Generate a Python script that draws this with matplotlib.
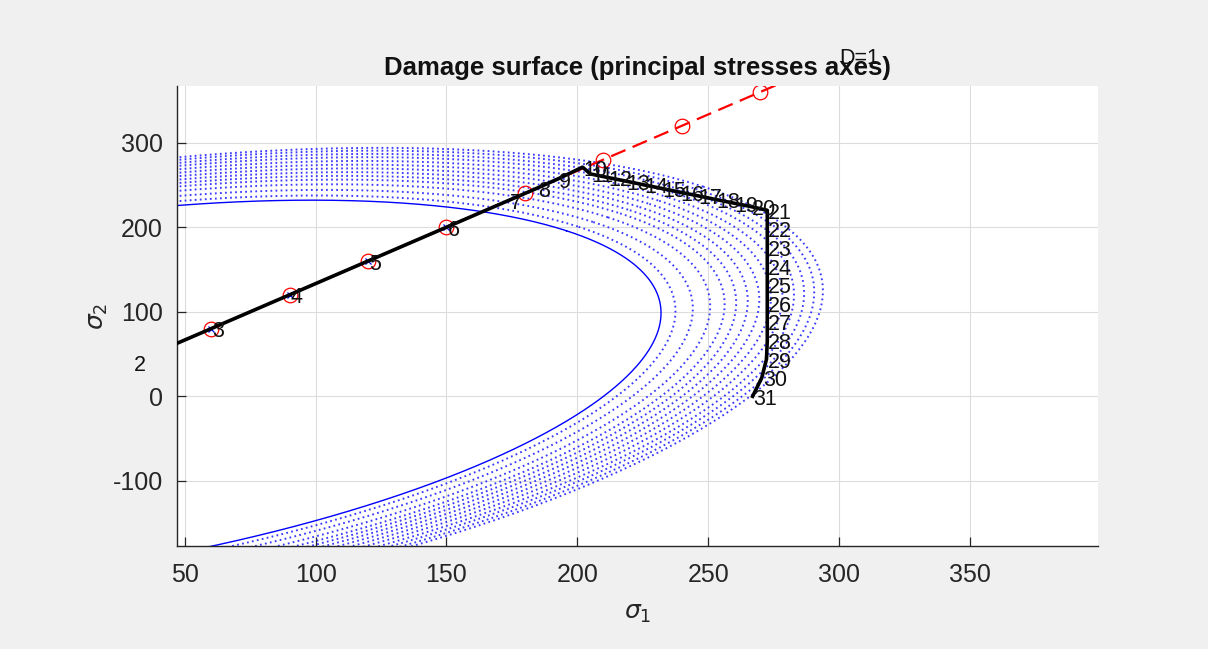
import numpy as np
import matplotlib
matplotlib.use("Agg")
import matplotlib.pyplot as plt

# ---------------- data ----------------
title_text = "Damage surface (principal stresses axes)"
# damage surfaces: s1^2 - k*s1*s2 + s2^2 = r^2
coupling_k = 0.85
r_initial = 210.0
r_levels = [215, 221, 227, 232, 236, 240, 244, 248, 252, 256, 259.5, 263, 266]

# applied (trial) proportional path
red_s1 = [0, 30, 60, 90, 120, 150, 180, 210, 240, 270, 300]
red_s2 = [0, 40, 80, 120, 160, 200, 240, 280, 320, 360, 400]

# computed stress path (points 1..31)
path_s1 = [0, 30, 60, 90, 120, 150, 174, 184.5, 192.5, 202,
           205, 211.5, 218.4, 225.3, 232.2, 239.1, 246, 252.9, 259.8, 266.5,
           272.6, 272.6, 272.6, 272.6, 272.6, 272.6, 272.6, 272.6, 272.3, 270.5, 267]
path_s2 = [0, 40, 80, 120, 160, 200, 232, 246, 257, 271,
           263, 258.9, 254.6, 250.2, 245.9, 241.5, 237.2, 232.8, 228.5, 224.3,
           220, 198, 176, 154, 132, 110, 88, 66, 44, 22, 0]
path_labels = [str(i) for i in range(1, 32)]
elastic_pts = 6  # points where trial = actual

end_text = "D=1"
end_pos = (300, 400)

xlim = (47, 399)
ylim = (-177, 367)
xticks = [50, 100, 150, 200, 250, 300, 350]
yticks = [-100, 0, 100, 200, 300]

# ---------------- style ----------------
plt.rcParams["font.family"] = ["Liberation Sans", "DejaVu Sans"]
plt.rcParams["mathtext.fontset"] = "dejavusans"
ink = "#262626"

fig = plt.figure(figsize=(12.08, 6.49), dpi=100, facecolor="#f0f0f0")
ax = fig.add_axes([177 / 1208, 1 - 546 / 649, (1098 - 177) / 1208, (546 - 86) / 649])
ax.set_facecolor("white")


def surface(r, k):
    t = np.linspace(0, 2 * np.pi, 1500)
    p = r / np.sqrt(1 - k / 2) * np.cos(t)
    q = r / np.sqrt(1 + k / 2) * np.sin(t)
    return (p + q) / np.sqrt(2), (p - q) / np.sqrt(2)


for r in r_levels:
    s1, s2 = surface(r, coupling_k)
    ax.plot(s1, s2, color=(0.15, 0.15, 1.0), lw=1.4, linestyle=(0, (0.9, 1.7)),
            alpha=0.9, zorder=2)
s1, s2 = surface(r_initial, coupling_k)
ax.plot(s1, s2, color="blue", lw=1.0, zorder=2)

ax.plot(red_s1, red_s2, color="red", lw=1.6, dashes=(7, 3.5), marker="o", ms=10.5,
        mfc="none", mec="red", mew=0.9, zorder=3)
ax.plot(path_s1[:elastic_pts], path_s2[:elastic_pts], linestyle="none", marker="x",
        ms=5, mec="blue", mew=0.9, zorder=3.5)
ax.plot(path_s1, path_s2, color="black", lw=2.6, zorder=4)

for x, y, lab in zip(path_s1[1:], path_s2[1:], path_labels[1:]):
    ax.annotate(lab, (x, y), xytext=(1, -3), textcoords="offset pixels", ha="left",
                va="center", fontsize=15.5, color="#111111", annotation_clip=False, zorder=5)
ax.text(end_pos[0], end_pos[1], end_text, ha="left", va="center", fontsize=15.5,
        color="#111111", clip_on=False, zorder=5)

ax.set_xlim(*xlim)
ax.set_ylim(*ylim)
ax.set_xticks(xticks)
ax.set_yticks(yticks)
ax.set_xticklabels([str(v) for v in xticks])
ax.set_yticklabels([str(v) for v in yticks])
ax.grid(True, color="#dcdcdc", lw=0.8)
ax.set_axisbelow(True)
for s in ["top", "right"]:
    ax.spines[s].set_visible(False)
for s in ["left", "bottom"]:
    ax.spines[s].set_color(ink)
    ax.spines[s].set_linewidth(1.0)
ax.tick_params(direction="in", length=6.5, width=0.9, colors=ink, labelsize=18, pad=12)
ax.tick_params(axis="y", pad=10)

ax.set_title(title_text, fontsize=18.5, fontweight="bold", color="#111111", pad=8)
ax.set_xlabel(r"$\sigma_1$", fontsize=18, color=ink, labelpad=10)
ax.set_ylabel(r"$\sigma_2$", fontsize=18, color=ink, labelpad=2)

fig.savefig("out.png", dpi=100, facecolor=fig.get_facecolor())
